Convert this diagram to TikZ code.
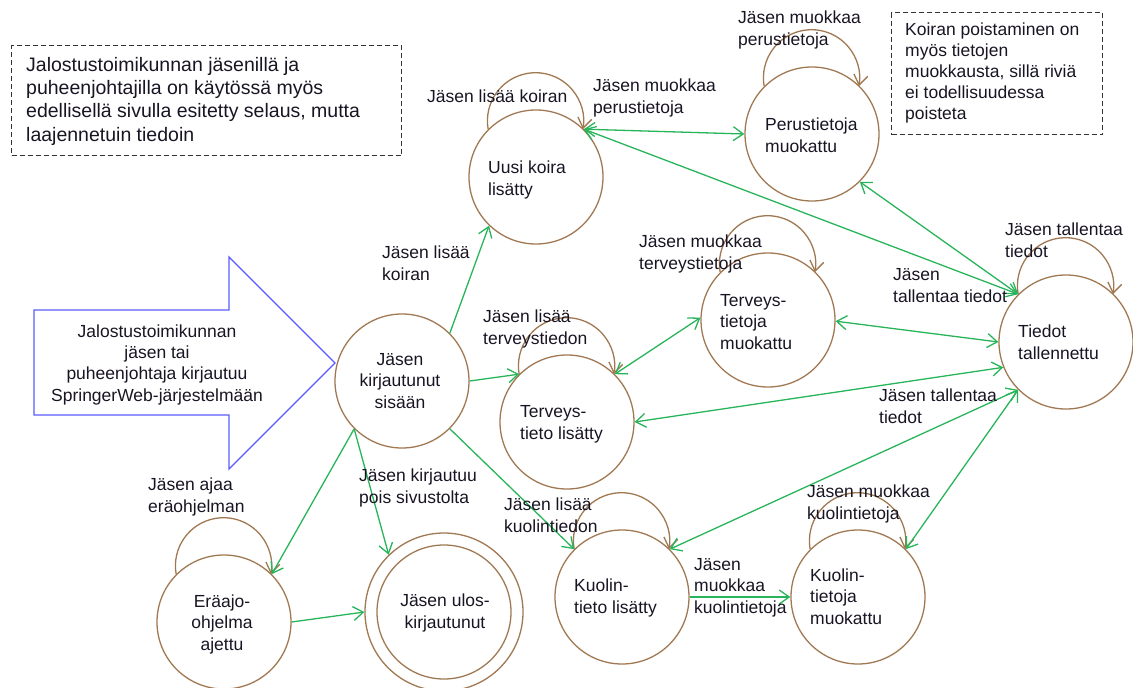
\documentclass[tikz,border=0pt]{standalone}
\usepackage{fontspec}
\setmainfont{Liberation Sans}
\usetikzlibrary{arrows.meta}
\definecolor{brn}{RGB}{160,120,82}
\definecolor{grn}{RGB}{40,180,90}
\definecolor{blu}{RGB}{90,90,255}
\definecolor{ink}{RGB}{25,20,35}
\begin{document}
\begin{tikzpicture}[x=1pt,y=1pt,
  >={Straight Barb[length=10pt,width=14pt]},
  state/.style={circle,draw=brn,line width=1.3pt,minimum size=134pt,inner sep=0pt},
  txt/.style={font=\fontsize{17.5}{21.3}\selectfont,align=left,anchor=base west,inner sep=0pt,text=ink},
  ctxt/.style={txt,align=center,anchor=base},
  conn/.style={draw=grn,line width=1.3pt},
  selfloop/.style={draw=brn,line width=1.3pt,->},
  note/.style={draw=black!80,line width=1.2pt,dash pattern=on 5pt off 3pt,rectangle,inner sep=0pt,anchor=north west}]
\useasboundingbox (0,0) rectangle (1133,-688);

% notes (multi-line texts are anchored at the baseline of their last line)
\node[note,minimum width=390pt,minimum height=110pt] (box1) at (11,-45) {};
\node[txt,font=\fontsize{19.5}{23.3}\selectfont] (box1T) at (26,-141) {Jalostustoimikunnan jäsenillä ja\\puheenjohtajilla on käytössä myös\\edellisellä sivulla esitetty selaus, mutta\\laajennetuin tiedoin};
\node[note,minimum width=211pt,minimum height=122pt] (box2) at (891,-12) {};
\node[txt,font=\fontsize{17.5}{21}\selectfont] (box2T) at (905,-119) {Koiran poistaminen on\\myös tietojen\\muokkausta, sillä riviä\\ei todellisuudessa\\poisteta};

% big blue arrow
\draw[blu,line width=1.4pt] (34,-310) -- (229,-310) -- (229,-257) -- (335,-363) -- (229,-469) -- (229,-415) -- (34,-415) -- cycle;
\node[ctxt] (arrowT) at (157,-401) {Jalostustoimikunnan\\jäsen tai\\puheenjohtaja kirjautuu\\SpringerWeb-järjestelmään};

% states
\node[state] (uusi) at (536,-177) {};
\node[state] (perus) at (812,-134) {};
\node[state] (tiedot) at (1066,-342) {};
\node[state] (kirj) at (402,-381) {};
\node[state] (tlis) at (567,-422) {};
\node[state] (tmuok) at (768,-320) {};
\node[state] (era) at (224,-622) {};
\node[state,minimum size=158pt] (ulos) at (444,-612) {};
\node[state] (ulosI) at (444,-612) {};
\node[state] (klis) at (622,-597) {};
\node[state] (kmuok) at (858,-597) {};

% state texts
\node[txt] (uusiT) at (488,-195) {Uusi koira\\lisätty};
\node[txt] (perusT) at (765,-152) {Perustietoja\\muokattu};
\node[txt] (tiedotT) at (1018,-359) {Tiedot\\tallennettu};
\node[ctxt] (kirjT) at (400,-408) {Jäsen\\kirjautunut\\sisään};
\node[txt] (tlisT) at (520,-439) {Terveys-\\tieto lisätty};
\node[txt] (tmuokT) at (720,-349) {Terveys-\\tietoja\\muokattu};
\node[ctxt] (eraT) at (222,-650) {Eräajo-\\ohjelma\\ajettu};
\node[ctxt] (ulosT) at (445,-628) {Jäsen ulos-\\kirjautunut};
\node[txt] (klisT) at (574,-613) {Kuolin-\\tieto lisätty};
\node[txt] (kmuokT) at (810,-624) {Kuolin-\\tietoja\\muokattu};

% self loops
\foreach \n in {uusi,perus,tmuok,tlis,tiedot,era,klis,kmuok}
  \draw[selfloop] (\n.135) arc[start angle=190,end angle=-10,radius=48.1];

% connectors
\draw[conn,->] (kirj.45) -- (uusi.226);
\draw[conn,->] (kirj.0) -- (tlis.135);
\draw[conn,<->] (tlis.45) -- (tmuok.178);
\draw[conn,<->] (uusi.45) -- (perus.180);
\draw[conn,<->] (uusi.45) -- (tiedot.135);
\draw[conn,<->] (perus.-45) -- (tiedot.135);
\draw[conn,<->] (tmuok.-1) -- (tiedot.180);
\draw[conn,<->] (tiedot.202) -- (tlis.0);
\draw[conn,<->] (tiedot.225) -- (klis.45);
\draw[conn,<->] (tiedot.225) -- (kmuok.45);
\draw[conn,->] (kirj.-45) -- (klis.135);
\draw[conn,->] (kirj.-135) -- (era.45);
\draw[conn,->] (kirj.-135) -- (ulos.134);
\draw[conn,->] (era.0) -- (ulos.180);
\draw[conn,->] (klis.0) -- (kmuok.180);

% labels
\node[txt] (l1) at (427,-102) {Jäsen lisää koiran};
\node[txt] (l2) at (593,-113) {Jäsen muokkaa\\perustietoja};
\node[txt] (l3) at (738,-45) {Jäsen muokkaa\\perustietoja};
\node[txt] (l4) at (1005,-257) {Jäsen tallentaa\\tiedot};
\node[txt] (l5) at (893,-302) {Jäsen\\tallentaa tiedot};
\node[txt] (l6) at (382,-280) {Jäsen lisää\\koiran};
\node[txt] (l7) at (639,-269) {Jäsen muokkaa\\terveystietoja};
\node[txt] (l8) at (483,-344) {Jäsen lisää\\terveystiedon};
\node[txt] (l9) at (879,-423) {Jäsen tallentaa\\tiedot};
\node[txt] (l10) at (148,-512) {Jäsen ajaa\\eräohjelman};
\node[txt] (l11) at (359,-503) {Jäsen kirjautuu\\pois sivustolta};
\node[txt] (l12) at (504,-532) {Jäsen lisää\\kuolintiedon};
\node[txt] (l13) at (807,-519) {Jäsen muokkaa\\kuolintietoja};
\node[txt] (l14) at (694,-613) {Jäsen\\muokkaa\\kuolintietoja};
\end{tikzpicture}
\end{document}
